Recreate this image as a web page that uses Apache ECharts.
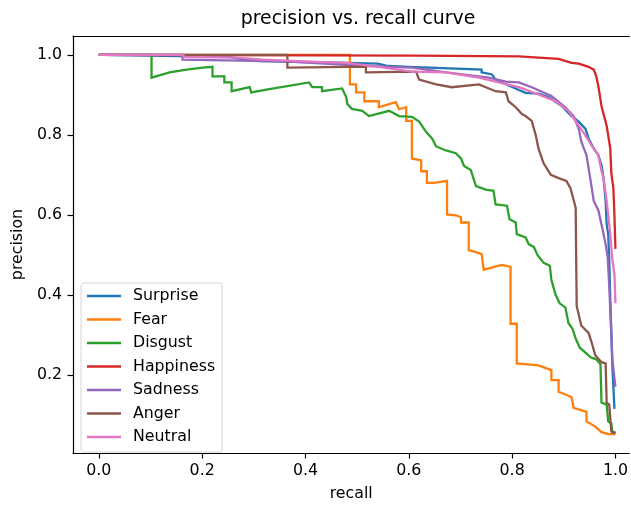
<!DOCTYPE html>
<html>
<head>
<meta charset="utf-8">
<script src="https://cdn.jsdelivr.net/npm/echarts@6/dist/echarts.min.js"></script>
<style>
html,body{margin:0;padding:0;background:#fff;}
#chart{width:631px;height:507px;}
</style>
</head>
<body>
<div id="chart"></div>
<script>
const seriesNames = ['Surprise', 'Fear', 'Disgust', 'Happiness', 'Sadness', 'Anger', 'Neutral'];
const xTicks = [0, 0.2, 0.4, 0.6, 0.8, 1.0];
const yTicks = [0.2, 0.4, 0.6, 0.8, 1.0];

const surpriseRecall = [0, 0.25, 0.30, 0.40, 0.54, 0.56, 0.60, 0.64, 0.741, 0.741, 0.761, 0.768, 0.813, 0.826, 0.851, 0.871, 0.896, 0.915, 0.929, 0.942, 0.948, 0.958, 0.967, 0.973, 0.977, 0.981, 0.983, 0.986, 0.988, 0.990, 0.992, 0.994, 0.998, 1.0];
const surprisePrecision = [1.0, 0.995, 0.985, 0.982, 0.978, 0.972, 0.970, 0.968, 0.963, 0.956, 0.951, 0.938, 0.912, 0.905, 0.903, 0.894, 0.872, 0.847, 0.833, 0.815, 0.791, 0.766, 0.749, 0.724, 0.692, 0.635, 0.576, 0.552, 0.488, 0.389, 0.305, 0.224, 0.118, 0.118];

const fearRecall = [0, 0.486, 0.486, 0.498, 0.498, 0.514, 0.514, 0.542, 0.542, 0.562, 0.575, 0.581, 0.595, 0.595, 0.606, 0.606, 0.624, 0.624, 0.635, 0.635, 0.649, 0.674, 0.674, 0.691, 0.701, 0.701, 0.716, 0.716, 0.730, 0.741, 0.745, 0.780, 0.797, 0.797, 0.809, 0.809, 0.851, 0.876, 0.876, 0.890, 0.890, 0.915, 0.919, 0.944, 0.944, 0.961, 0.973, 0.986, 1.0];
const fearPrecision = [1.0, 1.0, 0.926, 0.926, 0.906, 0.906, 0.884, 0.884, 0.869, 0.877, 0.882, 0.864, 0.869, 0.835, 0.835, 0.741, 0.736, 0.709, 0.709, 0.680, 0.680, 0.685, 0.601, 0.599, 0.594, 0.581, 0.581, 0.512, 0.507, 0.502, 0.463, 0.475, 0.470, 0.328, 0.328, 0.229, 0.224, 0.212, 0.187, 0.187, 0.158, 0.145, 0.118, 0.108, 0.084, 0.071, 0.057, 0.052, 0.052];

const disgustRecall = [0, 0.102, 0.102, 0.137, 0.170, 0.201, 0.220, 0.220, 0.243, 0.243, 0.257, 0.257, 0.292, 0.295, 0.330, 0.407, 0.413, 0.432, 0.432, 0.471, 0.479, 0.481, 0.490, 0.510, 0.523, 0.562, 0.581, 0.606, 0.620, 0.633, 0.645, 0.653, 0.672, 0.691, 0.701, 0.707, 0.720, 0.730, 0.749, 0.764, 0.768, 0.790, 0.795, 0.807, 0.809, 0.826, 0.832, 0.842, 0.849, 0.861, 0.873, 0.876, 0.884, 0.892, 0.903, 0.909, 0.917, 0.923, 0.931, 0.942, 0.952, 0.963, 0.971, 0.973, 0.983, 0.986, 0.992, 0.994, 1.0];
const disgustPrecision = [1.0, 1.0, 0.943, 0.956, 0.963, 0.968, 0.970, 0.946, 0.946, 0.931, 0.931, 0.909, 0.919, 0.906, 0.914, 0.931, 0.919, 0.919, 0.909, 0.916, 0.894, 0.877, 0.865, 0.860, 0.847, 0.860, 0.847, 0.845, 0.833, 0.808, 0.791, 0.771, 0.761, 0.754, 0.741, 0.722, 0.712, 0.672, 0.663, 0.660, 0.626, 0.623, 0.589, 0.581, 0.552, 0.544, 0.527, 0.520, 0.500, 0.480, 0.473, 0.438, 0.401, 0.379, 0.369, 0.330, 0.315, 0.291, 0.268, 0.256, 0.244, 0.239, 0.227, 0.131, 0.126, 0.084, 0.079, 0.057, 0.057];

const happinessRecall = [0, 0.614, 0.813, 0.890, 0.915, 0.929, 0.948, 0.958, 0.963, 0.967, 0.973, 0.983, 0.990, 0.992, 0.996, 0.998, 1.0];
const happinessPrecision = [1.0, 0.998, 0.996, 0.990, 0.980, 0.978, 0.970, 0.963, 0.946, 0.921, 0.872, 0.823, 0.766, 0.704, 0.667, 0.601, 0.515];

const sadnessRecall = [0, 0.162, 0.162, 0.30, 0.37, 0.52, 0.606, 0.672, 0.755, 0.788, 0.813, 0.838, 0.876, 0.903, 0.919, 0.929, 0.934, 0.944, 0.948, 0.952, 0.958, 0.967, 0.973, 0.981, 0.985, 0.988, 0.992, 0.994, 0.998, 1.0];
const sadnessPrecision = [1.0, 1.0, 0.988, 0.985, 0.983, 0.972, 0.968, 0.956, 0.943, 0.933, 0.931, 0.919, 0.897, 0.869, 0.847, 0.815, 0.783, 0.749, 0.717, 0.685, 0.635, 0.611, 0.576, 0.527, 0.495, 0.421, 0.305, 0.241, 0.192, 0.170];

const angerRecall = [0, 0.365, 0.365, 0.485, 0.517, 0.517, 0.614, 0.620, 0.653, 0.683, 0.736, 0.749, 0.768, 0.788, 0.793, 0.807, 0.819, 0.826, 0.838, 0.846, 0.851, 0.861, 0.875, 0.890, 0.905, 0.913, 0.923, 0.925, 0.934, 0.948, 0.954, 0.961, 0.973, 0.981, 0.983, 0.988, 0.992, 1.0];
const angerPrecision = [1.0, 1.0, 0.968, 0.970, 0.970, 0.956, 0.958, 0.938, 0.926, 0.919, 0.926, 0.919, 0.909, 0.906, 0.884, 0.869, 0.852, 0.847, 0.835, 0.798, 0.766, 0.729, 0.700, 0.692, 0.685, 0.667, 0.618, 0.372, 0.323, 0.305, 0.281, 0.249, 0.232, 0.229, 0.131, 0.126, 0.059, 0.054];

const neutralRecall = [0, 0.162, 0.166, 0.266, 0.317, 0.407, 0.479, 0.542, 0.606, 0.672, 0.736, 0.774, 0.813, 0.851, 0.884, 0.909, 0.929, 0.942, 0.954, 0.967, 0.973, 0.977, 0.983, 0.990, 0.994, 0.998, 1.0];
const neutralPrecision = [1.0, 1.0, 0.995, 0.993, 0.988, 0.983, 0.980, 0.970, 0.958, 0.956, 0.943, 0.931, 0.919, 0.901, 0.884, 0.860, 0.823, 0.798, 0.773, 0.749, 0.709, 0.692, 0.635, 0.552, 0.488, 0.453, 0.379];

const colors = ['#1f77b4', '#ff7f0e', '#2ca02c', '#d62728', '#9467bd', '#8c564b', '#e377c2'];
const recalls = [surpriseRecall, fearRecall, disgustRecall, happinessRecall, sadnessRecall, angerRecall, neutralRecall];
const precisions = [surprisePrecision, fearPrecision, disgustPrecision, happinessPrecision, sadnessPrecision, angerPrecision, neutralPrecision];

const FONT = 'DejaVu Sans';
const FS = 15.8;
const chart = echarts.init(document.getElementById('chart'), null, {renderer: 'canvas'});

const series = seriesNames.map((name, i) => ({
  name: name,
  type: 'line',
  symbol: 'none',
  showSymbol: false,
  animation: false,
  clip: true,
  xAxisIndex: 0,
  yAxisIndex: 0,
  lineStyle: {color: colors[i], width: 2.3, join: 'miter', cap: 'butt'},
  itemStyle: {color: colors[i]},
  data: recalls[i].map((r, j) => [r, precisions[i][j]])
}));

const axisLineStyle = {show: true, onZero: false, lineStyle: {color: '#000', width: 1.2}};

const option = {
  animation: false,
  backgroundColor: '#fff',
  color: colors,
  title: {
    text: 'precision vs. recall curve',
    left: 358,
    top: 10,
    padding: 0,
    textAlign: 'center',
    textStyle: {fontFamily: FONT, fontSize: 18.9, fontWeight: 'normal', color: '#000'}
  },
  grid: {
    left: 73, right: 0, top: 36, bottom: 48, show: false
  },
  legend: {
    orient: 'vertical',
    left: 81,
    top: 283,
    padding: [5, 7, 7, 6],
    itemWidth: 34,
    itemHeight: 16,
    itemGap: 7.5,
    icon: 'path://M0,0L34,0L34,2.4L0,2.4Z',
    itemStyle: {borderWidth: 0},
    backgroundColor: '#fff',
    borderColor: '#d6d6d6',
    borderWidth: 1,
    borderRadius: 3,
    textStyle: {fontFamily: FONT, fontSize: FS, color: '#000', lineHeight: 16, padding: [0, 0, 0, 7]},
    data: seriesNames
  },
  xAxis: [{
    type: 'value',
    position: 'bottom',
    min: -0.05,
    max: 1.027,
    name: 'recall',
    nameLocation: 'middle',
    nameGap: 33,
    nameTextStyle: {fontFamily: FONT, fontSize: FS, color: '#000'},
    axisLine: axisLineStyle,
    axisTick: {show: true, inside: false, length: 5.5, lineStyle: {color: '#000', width: 1.2}, customValues: xTicks},
    axisLabel: {show: true, margin: 10, fontFamily: FONT, fontSize: FS, color: '#000',
      customValues: xTicks, formatter: v => v.toFixed(1)},
    splitLine: {show: false}
  }, {
    type: 'value',
    position: 'top',
    min: -0.05,
    max: 1.027,
    axisLine: axisLineStyle,
    axisTick: {show: false},
    axisLabel: {show: false},
    splitLine: {show: false}
  }],
  yAxis: {
    type: 'value',
    min: 0.005,
    max: 1.047,
    name: 'precision',
    nameLocation: 'middle',
    nameRotate: 90,
    nameGap: 39,
    nameTextStyle: {fontFamily: FONT, fontSize: FS, color: '#000'},
    axisLine: axisLineStyle,
    axisTick: {show: true, inside: false, length: 5.5, lineStyle: {color: '#000', width: 1.2}, customValues: yTicks},
    axisLabel: {show: true, margin: 11, fontFamily: FONT, fontSize: FS, color: '#000',
      customValues: yTicks, formatter: v => v.toFixed(1)},
    splitLine: {show: false}
  },
  series: series
};
chart.setOption(option);
</script>
</body>
</html>
